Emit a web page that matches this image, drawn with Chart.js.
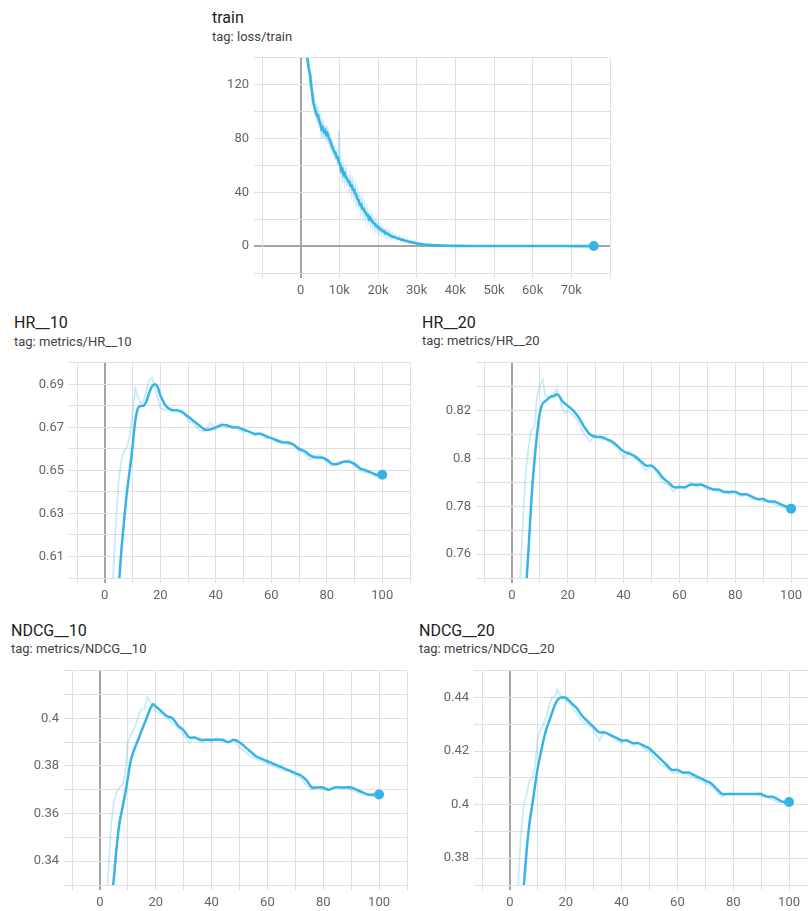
<!DOCTYPE html>
<html><head><meta charset="utf-8">
<script src="https://cdn.jsdelivr.net/npm/chart.js@4.4.1/dist/chart.umd.min.js"></script>
<style>
html,body{margin:0;padding:0;width:808px;height:911px;overflow:hidden;background:#fff;font-family:Roboto,sans-serif;}
.t{position:absolute;font-size:16px;line-height:19.2px;color:#212121;white-space:nowrap;}
.g{position:absolute;font-size:13px;line-height:15.6px;color:#424242;white-space:nowrap;}
canvas{position:absolute;}
</style></head><body>
<div class="t" style="left:212px;top:7.6px">train</div>
<div class="g" style="left:212px;top:28.5px">tag: loss/train</div>
<div class="t" style="left:14px;top:313.2px">HR__10</div>
<div class="g" style="left:14px;top:333.5px">tag: metrics/HR__10</div>
<div class="t" style="left:422px;top:312.8px">HR__20</div>
<div class="g" style="left:422px;top:333px">tag: metrics/HR__20</div>
<div class="t" style="left:11px;top:620.5px">NDCG__10</div>
<div class="g" style="left:11px;top:640.8px">tag: metrics/NDCG__10</div>
<div class="t" style="left:419px;top:620.5px">NDCG__20</div>
<div class="g" style="left:419px;top:640.8px">tag: metrics/NDCG__20</div>
<canvas id="cTrain"></canvas>
<canvas id="cHR10"></canvas>
<canvas id="cHR20"></canvas>
<canvas id="cN10"></canvas>
<canvas id="cN20"></canvas>
<script>
// ---------- data ----------
const TRAIN_STEPS = [0,800,1500,
  1800,2100,2400,2700,3000,3300,3600,3900,4200,4500,4800,5100,5400,5700,6000,6300,6600,6900,7200,7500,7800,8100,8400,8700,9000,9300,9600,9900,
  10200,10500,10800,11100,11400,11700,12000,12300,12600,12900,13200,13500,13800,14100,14400,14700,15000,15300,15600,15900,16200,16500,16800,17100,17400,17700,
  18000,18300,18600,18900,19200,19500,19800,20100,20400,20700,21000,21300,21600,21900,22200,22500,22800,23100,23400,23700,24000,
  24500,25000,25500,26000,26500,27000,27500,28000,28500,29000,29500,30000,
  31000,32000,33000,34000,36000,38000,40000,44000,48000,52000,56000,60000,64000,68000,72000,75800];
const TRAIN_SMOOTHED = [175,158,145,
  138,132,128,120,113,107,103,100,97,97,93,91,87,88,85,86,83,84,81,79,77,74,72,70,69,66,66,62,
  61,56,57,53,54,51,50,48,48,45,45,42,42,39,38,35,34,31,31,28,28,26,25,23,23,20,
  21,19,18,17,16.5,15,15,13.5,13.5,12,12,11,11,9.5,9.8,9,8.5,8.2,7.5,7.2,7,
  6.3,5.8,5.5,4.8,4.5,4,3.8,3.3,3,2.6,2.3,2,
  1.6,1.2,0.9,0.7,0.45,0.3,0.2,0.12,0.08,0.05,0.04,0.03,0.02,0.02,0.01,0.01];
const TRAIN_RAW = [180,162,148,
  134,136,122,125,108,112,98,106,92,104,88,98,80,94,80,90,78,89,76,84,72,79,67,75,64,72,60,86,
  56,62,51,58,49,56,45,53,43,50,40,47,37,44,33,40,30,36,27,33,24,30,21,27,19,24,
  17,22,15,20,13,18,12,16,11,14.5,9.5,13,8.5,11.5,7.5,11,6.5,10,6,9,5.5,
  8,4.5,7,3.5,6,3,5,2.3,4.2,1.8,3.4,1.3,
  2.4,0.7,1.4,0.4,0.8,0.15,0.35,0.08,0.12,0.03,0.05,0.02,0.03,0.01,0.02,0.01];
const TRAIN_X_TICKS = [0,10000,20000,30000,40000,50000,60000,70000];
const TRAIN_X_LABELS = ['0','10k','20k','30k','40k','50k','60k','70k'];
const TRAIN_Y_TICKS = [0,40,80,120];
const TRAIN_Y_LABELS = ['0','40','80','120'];

const EPOCHS = [0,1,2,3,4,5,6,7,8,9,10,11,12,13,14,15,16,17,18,19,20,22,24,26,28,30,32,34,36,38,40,42,44,46,48,50,52,54,56,58,60,62,64,66,68,70,72,74,76,78,80,82,84,86,88,90,92,94,96,98,100];
const EPOCH_X_TICKS = [0,20,40,60,80,100];
const EPOCH_X_LABELS = ['0','20','40','60','80','100'];

const HR10_SMOOTHED = [0.40,0.46,0.51,0.55,0.578,0.595,0.613,0.627,0.640,0.650,0.661,0.673,0.679,0.680,0.680,0.682,0.686,0.689,0.690,0.689,0.685,0.680,0.678,0.678,0.677,0.675,0.673,0.671,0.669,0.669,0.670,0.671,0.671,0.670,0.670,0.669,0.668,0.667,0.667,0.666,0.665,0.664,0.663,0.663,0.662,0.660,0.659,0.657,0.656,0.656,0.655,0.653,0.653,0.654,0.654,0.653,0.651,0.650,0.649,0.648,0.648];
const HR10_RAW = [0.45,0.52,0.57,0.60,0.625,0.645,0.655,0.659,0.661,0.666,0.676,0.688,0.684,0.681,0.682,0.687,0.692,0.693,0.689,0.684,0.679,0.678,0.679,0.677,0.678,0.673,0.672,0.669,0.668,0.672,0.669,0.672,0.670,0.671,0.669,0.668,0.668,0.666,0.667,0.665,0.665,0.663,0.664,0.662,0.662,0.659,0.658,0.655,0.657,0.657,0.654,0.652,0.654,0.654,0.655,0.652,0.650,0.649,0.649,0.647,0.648];
const HR10_Y_TICKS = [0.61,0.63,0.65,0.67,0.69];
const HR10_Y_LABELS = ['0.61','0.63','0.65','0.67','0.69'];

const HR20_SMOOTHED = [0.55,0.62,0.67,0.705,0.73,0.745,0.763,0.783,0.798,0.810,0.819,0.823,0.824,0.825,0.826,0.826,0.827,0.826,0.824,0.823,0.822,0.820,0.817,0.813,0.810,0.809,0.809,0.808,0.807,0.805,0.803,0.802,0.801,0.799,0.797,0.797,0.795,0.792,0.790,0.788,0.788,0.788,0.789,0.789,0.789,0.788,0.787,0.787,0.786,0.786,0.786,0.785,0.785,0.784,0.783,0.783,0.782,0.782,0.781,0.780,0.779];
const HR20_RAW = [0.60,0.67,0.72,0.75,0.775,0.795,0.805,0.812,0.813,0.826,0.830,0.833,0.826,0.826,0.825,0.827,0.829,0.826,0.821,0.819,0.820,0.818,0.815,0.810,0.807,0.810,0.808,0.808,0.806,0.804,0.800,0.803,0.800,0.798,0.795,0.797,0.794,0.790,0.789,0.786,0.789,0.787,0.790,0.788,0.789,0.787,0.787,0.786,0.786,0.785,0.786,0.784,0.785,0.783,0.783,0.782,0.782,0.781,0.780,0.779,0.779];
const HR20_Y_TICKS = [0.76,0.78,0.80,0.82];
const HR20_Y_LABELS = ['0.76','0.78','0.8','0.82'];

const NDCG10_SMOOTHED = [0.24,0.27,0.295,0.31,0.322,0.333,0.346,0.356,0.362,0.368,0.375,0.382,0.386,0.389,0.392,0.395,0.398,0.401,0.404,0.406,0.405,0.403,0.401,0.400,0.397,0.395,0.392,0.392,0.391,0.391,0.391,0.391,0.391,0.390,0.391,0.390,0.388,0.386,0.384,0.383,0.382,0.381,0.380,0.379,0.378,0.377,0.376,0.374,0.371,0.371,0.371,0.370,0.371,0.371,0.371,0.371,0.370,0.369,0.368,0.368,0.368];
const NDCG10_RAW = [0.27,0.30,0.318,0.335,0.355,0.365,0.369,0.371,0.372,0.376,0.390,0.393,0.395,0.398,0.402,0.404,0.404,0.409,0.407,0.405,0.403,0.402,0.400,0.398,0.396,0.393,0.390,0.392,0.390,0.391,0.390,0.392,0.390,0.390,0.391,0.388,0.386,0.384,0.383,0.382,0.381,0.380,0.379,0.378,0.378,0.376,0.375,0.372,0.370,0.371,0.370,0.370,0.371,0.371,0.371,0.370,0.369,0.368,0.368,0.367,0.368];
const NDCG10_Y_TICKS = [0.34,0.36,0.38,0.40];
const NDCG10_Y_LABELS = ['0.34','0.36','0.38','0.4'];

const NDCG20_SMOOTHED = [0.28,0.31,0.335,0.35,0.358,0.370,0.383,0.393,0.400,0.407,0.414,0.419,0.424,0.428,0.431,0.434,0.437,0.439,0.440,0.440,0.440,0.438,0.436,0.433,0.431,0.429,0.427,0.427,0.426,0.425,0.424,0.424,0.423,0.423,0.422,0.421,0.419,0.417,0.415,0.413,0.413,0.412,0.412,0.411,0.410,0.409,0.408,0.406,0.404,0.404,0.404,0.404,0.404,0.404,0.404,0.404,0.403,0.403,0.402,0.401,0.401];
const NDCG20_RAW = [0.31,0.34,0.355,0.37,0.39,0.400,0.404,0.409,0.410,0.414,0.425,0.428,0.430,0.433,0.437,0.440,0.440,0.443,0.441,0.440,0.439,0.437,0.434,0.431,0.430,0.428,0.424,0.427,0.426,0.424,0.423,0.424,0.422,0.423,0.421,0.420,0.417,0.415,0.414,0.412,0.412,0.412,0.411,0.410,0.409,0.408,0.407,0.405,0.403,0.404,0.404,0.404,0.404,0.404,0.404,0.403,0.403,0.402,0.401,0.401,0.401];
const NDCG20_Y_TICKS = [0.38,0.40,0.42,0.44];
const NDCG20_Y_LABELS = ['0.38','0.4','0.42','0.44'];

// ---------- styling ----------
const BLUE = '#36b4e6';
const RAWC = 'rgba(54,180,230,0.27)';
const GRID = '#e0e0e0';
const ZERO = '#a4a4a4';
const TICKC = '#666666';
Chart.defaults.font.family = 'Roboto';

function labelFor(v, ticks, labels) {
  for (let i = 0; i < ticks.length; i++) {
    if (Math.abs(ticks[i] - v) < 1e-7 * Math.max(1, Math.abs(ticks[i]))) return labels[i];
  }
  return '';
}

function makeConfig(o) {
  const n = o.xs.length;
  const pts = ys => o.xs.map((x, i) => ({x: x, y: ys[i]}));
  const isZero = c => Math.abs(c.tick.value) < 1e-9;
  const gridColor = c => (isZero(c) ? ZERO : GRID);
  const gridWidth = c => (isZero(c) ? 2 : 1);
  return {
    type: 'line',
    data: {datasets: [
      {data: pts(o.raw), borderColor: RAWC, borderWidth: o.rawWidth, pointRadius: 0, tension: 0, order: 2},
      {data: pts(o.smooth), borderColor: BLUE, backgroundColor: BLUE, borderWidth: o.lineWidth,
       pointRadius: ctx => (ctx.dataIndex === n - 1 ? 5 : 0), pointBackgroundColor: BLUE, pointBorderWidth: 0,
       tension: o.tension, order: 1}
    ]},
    options: {
      responsive: false, animation: false, devicePixelRatio: 1, events: [],
      layout: {padding: 0},
      plugins: {legend: {display: false}, tooltip: {enabled: false}},
      scales: {
        x: {type: 'linear', min: o.xMin, max: o.xMax,
          afterFit: s => { s.height = 40; },
          ticks: {stepSize: o.xStep, maxTicksLimit: 100, autoSkip: false, maxRotation: 0, padding: 5,
            color: TICKC, font: {size: 13},
            callback: v => labelFor(v, o.xTicks, o.xLabels)},
          grid: {color: gridColor, lineWidth: gridWidth, tickLength: 5},
          border: {color: GRID}
        },
        y: {type: 'linear', min: o.yMin, max: o.yMax,
          afterFit: s => { s.width = 70; },
          ticks: {stepSize: o.yStep, maxTicksLimit: 100, autoSkip: false, padding: 5,
            color: TICKC, font: {size: 13},
            callback: v => labelFor(v, o.yTicks, o.yLabels)},
          grid: {color: gridColor, lineWidth: gridWidth, tickLength: 8},
          border: {color: GRID}
        }
      }
    }
  };
}

function build(canvas, W, H, o) {
  canvas.width = W; canvas.height = H;
  canvas.style.width = W + 'px'; canvas.style.height = H + 'px';
  return new Chart(canvas.getContext('2d'), makeConfig(o));
}

function place(id, o, area) {
  const canvas = document.getElementById(id);
  const aw = area.r - area.l, ah = area.b - area.t;
  let W = aw + 80, H = ah + 50;
  let ch = build(canvas, W, H, o);
  const ca = ch.chartArea;
  W += Math.round(aw - (ca.right - ca.left));
  H += Math.round(ah - (ca.bottom - ca.top));
  ch.destroy();
  ch = build(canvas, W, H, o);
  canvas.style.left = Math.round(area.l - ch.chartArea.left) + 'px';
  canvas.style.top = Math.round(area.t - ch.chartArea.top) + 'px';
}

place('cTrain', {xs: TRAIN_STEPS, smooth: TRAIN_SMOOTHED, raw: TRAIN_RAW, tension: 0, lineWidth: 2.6, rawWidth: 2,
  xMin: -10000, xMax: 80000, xStep: 10000, xTicks: TRAIN_X_TICKS, xLabels: TRAIN_X_LABELS,
  yMin: -20, yMax: 140, yStep: 20, yTicks: TRAIN_Y_TICKS, yLabels: TRAIN_Y_LABELS},
  {l: 262, r: 610, t: 58, b: 273});

const epochAxis = {xMin: -10, xMax: 110, xStep: 10, xTicks: EPOCH_X_TICKS, xLabels: EPOCH_X_LABELS,
  tension: 0.3, lineWidth: 2.5, rawWidth: 1.8};

place('cHR10', Object.assign({xs: EPOCHS, smooth: HR10_SMOOTHED, raw: HR10_RAW,
  yMin: 0.60, yMax: 0.70, yStep: 0.01, yTicks: HR10_Y_TICKS, yLabels: HR10_Y_LABELS}, epochAxis),
  {l: 77, r: 410, t: 363, b: 578});

place('cHR20', Object.assign({xs: EPOCHS, smooth: HR20_SMOOTHED, raw: HR20_RAW,
  yMin: 0.75, yMax: 0.84, yStep: 0.01, yTicks: HR20_Y_TICKS, yLabels: HR20_Y_LABELS}, epochAxis),
  {l: 484, r: 819, t: 363, b: 578});

place('cN10', Object.assign({xs: EPOCHS, smooth: NDCG10_SMOOTHED, raw: NDCG10_RAW,
  yMin: 0.33, yMax: 0.42, yStep: 0.01, yTicks: NDCG10_Y_TICKS, yLabels: NDCG10_Y_LABELS}, epochAxis),
  {l: 72, r: 407, t: 671, b: 885});

place('cN20', Object.assign({xs: EPOCHS, smooth: NDCG20_SMOOTHED, raw: NDCG20_RAW,
  yMin: 0.37, yMax: 0.45, yStep: 0.01, yTicks: NDCG20_Y_TICKS, yLabels: NDCG20_Y_LABELS}, epochAxis),
  {l: 482, r: 817, t: 671, b: 885});
</script>
</body></html>
